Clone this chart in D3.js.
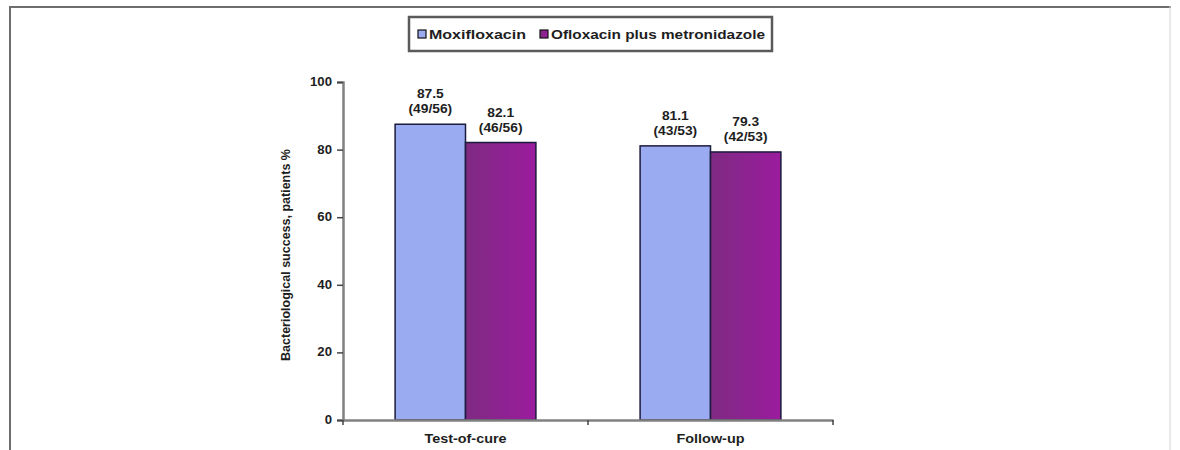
<!DOCTYPE html>
<html><head><meta charset="utf-8">
<script src="https://cdn.jsdelivr.net/npm/d3@7"></script>
<style>html,body{margin:0;padding:0;background:#fff;}svg{display:block;}</style>
</head><body>
<script>
const categories = ["Test-of-cure", "Follow-up"];
const seriesNames = ["Moxifloxacin", "Ofloxacin plus metronidazole"];
const moxValues = [87.5, 81.1];
const oflValues = [82.1, 79.3];
const moxCounts = ["(49/56)", "(43/53)"];
const oflCounts = ["(46/56)", "(42/53)"];
const yTicks = [0, 20, 40, 60, 80, 100];
const yTitle = "Bacteriological success, patients %";

const W = 1180, H = 450;
const svg = d3.select("body").append("svg").attr("width", W).attr("height", H);
const defs = svg.append("defs");
const g1 = defs.append("linearGradient").attr("id", "purp").attr("x1", 0).attr("x2", 1).attr("y1", 0).attr("y2", 0);
g1.append("stop").attr("offset", "0%").attr("stop-color", "#7e2a82");
g1.append("stop").attr("offset", "100%").attr("stop-color", "#9b1c9e");

// outer frame
svg.append("line").attr("x1", 9).attr("x2", 1171).attr("y1", 7).attr("y2", 7).attr("stroke", "#6e6e6e").attr("stroke-width", 2);
svg.append("line").attr("x1", 10).attr("x2", 10).attr("y1", 6).attr("y2", 450).attr("stroke", "#6e6e6e").attr("stroke-width", 2);
svg.append("line").attr("x1", 1170).attr("x2", 1170).attr("y1", 6).attr("y2", 450).attr("stroke", "#d4d4d4").attr("stroke-width", 1);

const FONT = "'Liberation Sans', Arial, sans-serif";
const plotL = 343, plotR = 833, plotT = 82, plotB = 420;

const x = d3.scaleBand().domain(categories).range([plotL, plotR]).paddingInner(0).paddingOuter(0);
const xs = d3.scaleBand().domain(seriesNames).range([0, x.bandwidth()]).paddingInner(0).paddingOuter(0.74);
const y = d3.scaleLinear().domain([0, 100]).range([plotB, plotT]);

function sText(parent, tx, ty, txt, size, sx, anchor) {
  return parent.append("text")
    .attr("transform", `translate(${tx},${ty}) scale(${sx},1)`)
    .attr("text-anchor", anchor || "middle")
    .attr("font-family", FONT).attr("font-weight", "bold")
    .attr("font-size", size).attr("fill", "#1e1e1e").text(txt);
}

// bars
const rows = categories.map((c, i) => ({ c, vals: [
  { s: seriesNames[0], v: moxValues[i], n: moxCounts[i] },
  { s: seriesNames[1], v: oflValues[i], n: oflCounts[i] }] }));
const fills = { [seriesNames[0]]: "#9aabf2", [seriesNames[1]]: "url(#purp)" };

const grp = svg.selectAll("g.cat").data(rows).join("g").attr("class", "cat")
  .attr("transform", d => `translate(${x(d.c)},0)`);
grp.selectAll("rect").data(d => d.vals).join("rect")
  .attr("x", d => xs(d.s)).attr("width", xs.bandwidth())
  .attr("y", d => y(d.v)).attr("height", d => y(0) - y(d.v))
  .attr("fill", d => fills[d.s]).attr("stroke", "#1b1b3c").attr("stroke-width", 1.5);
grp.each(function(d) {
  const gg = d3.select(this);
  d.vals.forEach(v => {
    const cx = xs(v.s) + xs.bandwidth() / 2;
    sText(gg, cx, y(v.v) - 26, v.v.toFixed(1), 12, 1.15);
    sText(gg, cx, y(v.v) - 11, v.n, 12, 1.15);
  });
});

// y axis
const yAxis = svg.append("g").attr("transform", `translate(${plotL},0)`)
  .call(d3.axisLeft(y).tickValues(yTicks).tickSize(6).tickPadding(4).tickFormat(d3.format("d")));
yAxis.select(".domain").attr("stroke", "#808080").attr("stroke-width", 2.5);
yAxis.selectAll(".tick line").attr("stroke", "#444").attr("stroke-width", 1.5);
yAxis.selectAll(".tick text").remove();
yTicks.forEach(t => sText(svg, plotL - 11, y(t) + 4, String(t), 12, 1.1, "end"));

// x axis
const xAxis = svg.append("g").attr("transform", `translate(0,${plotB})`)
  .call(d3.axisBottom(x).tickSize(0).tickFormat(""));
xAxis.select(".domain").attr("stroke", "#808080").attr("stroke-width", 2.5);
xAxis.selectAll(".tick").remove();
const bounds = [plotL].concat(categories.map(c => x(c) + x.bandwidth()));
svg.selectAll("line.xt").data(bounds).join("line").attr("class", "xt")
  .attr("x1", d => d).attr("x2", d => d).attr("y1", plotB).attr("y2", plotB + 5)
  .attr("stroke", "#444").attr("stroke-width", 1.5);
categories.forEach(c => sText(svg, x(c) + x.bandwidth() / 2, 443, c, 12, 1.2));

// y title
svg.append("text").attr("transform", `translate(290,${(plotT + plotB) / 2 + 4}) rotate(-90)`)
  .attr("text-anchor", "middle").attr("font-family", FONT).attr("font-weight", "bold")
  .attr("font-size", 12.5).attr("fill", "#1e1e1e").text(yTitle);

// legend
const lg = svg.append("g");
lg.append("rect").attr("x", 409).attr("y", 17).attr("width", 363).attr("height", 34)
  .attr("fill", "#fff").attr("stroke", "#5a5a5a").attr("stroke-width", 2.5);
const legX = [418, 540];
const legLen = [97, 214];
seriesNames.forEach((s, i) => {
  lg.append("rect").attr("x", legX[i]).attr("y", 30).attr("width", 8).attr("height", 8)
    .attr("fill", fills[s]).attr("stroke", "#111").attr("stroke-width", 1.2);
  lg.append("text").attr("x", legX[i] + 11).attr("y", 39)
    .attr("font-family", FONT).attr("font-weight", "bold").attr("font-size", 12)
    .attr("fill", "#1e1e1e").attr("textLength", legLen[i]).attr("lengthAdjust", "spacingAndGlyphs").text(s);
});
</script>
</body></html>
